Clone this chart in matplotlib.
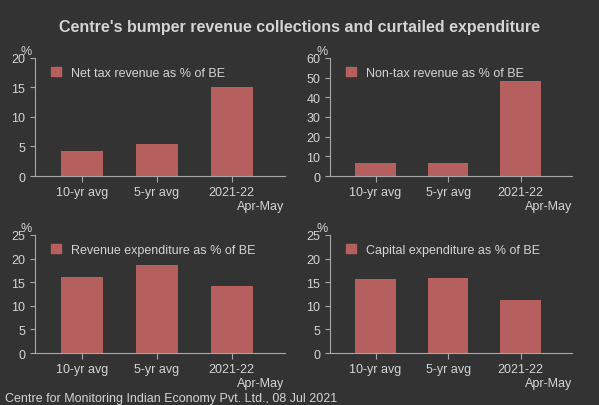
import matplotlib
matplotlib.use("Agg")
import matplotlib.pyplot as plt
from matplotlib.patches import Patch

plt.rcParams["font.family"] = ["Liberation Sans", "DejaVu Sans"]

categories = ["10-yr avg", "5-yr avg", "2021-22"]
period_note = "Apr-May"
net_tax = [4.3, 5.4, 15.1]
non_tax = [6.5, 6.7, 48.0]
revenue_exp = [16.1, 18.6, 14.2]
capital_exp = [15.6, 15.8, 11.3]

panels = [
    (net_tax, "Net tax revenue as % of BE", 20, 5, [0.058, 0.564, 0.417, 0.291]),
    (non_tax, "Non-tax revenue as % of BE", 60, 10, [0.551, 0.564, 0.404, 0.291]),
    (revenue_exp, "Revenue expenditure as % of BE", 25, 5, [0.058, 0.128, 0.417, 0.291]),
    (capital_exp, "Capital expenditure as % of BE", 25, 5, [0.551, 0.128, 0.404, 0.291]),
]

BG = "#333333"
BAR = "#b55f5f"
TXT = "#d4d4d4"
LINE = "#a8a8a8"

fig = plt.figure(figsize=(5.99, 4.06), dpi=100, facecolor=BG)
fig.text(0.5, 0.922, "Centre's bumper revenue collections and curtailed expenditure",
         ha="center", color=TXT, fontsize=11.5, fontweight="bold")

for vals, label, ymax, step, rect in panels:
    ax = fig.add_axes(rect, facecolor=BG)
    ax.bar(range(len(vals)), vals, width=0.56, color=BAR)
    ax.set_xlim(-0.627, 2.707)
    ax.set_ylim(0, ymax)
    ax.set_yticks(range(0, ymax + 1, step))
    ax.set_xticks(range(len(categories)))
    ax.set_xticklabels(categories, fontsize=9, color=TXT)
    ax.tick_params(axis="y", labelsize=9, colors=TXT, color=LINE)
    ax.tick_params(axis="x", color=LINE, length=4)
    for s in ("top", "right"):
        ax.spines[s].set_visible(False)
    for s in ("left", "bottom"):
        ax.spines[s].set_color(LINE)
    ax.text(1.0, -0.2, period_note, transform=ax.transAxes, color=TXT,
            fontsize=9, ha="right", va="top")
    ax.text(-0.01, 1.03, "%", transform=ax.transAxes, color=TXT, fontsize=9, ha="right")
    ax.legend(handles=[Patch(color=BAR)], labels=[label], loc="upper left",
              frameon=False, fontsize=9, labelcolor=TXT, handlelength=0.8,
              handleheight=0.8, bbox_to_anchor=(0.02, 1.02))

fig.text(0.008, 0.01, "Centre for Monitoring Indian Economy Pvt. Ltd., 08 Jul 2021",
         color=TXT, fontsize=9)

fig.savefig("out.png", dpi=100, facecolor=BG)
